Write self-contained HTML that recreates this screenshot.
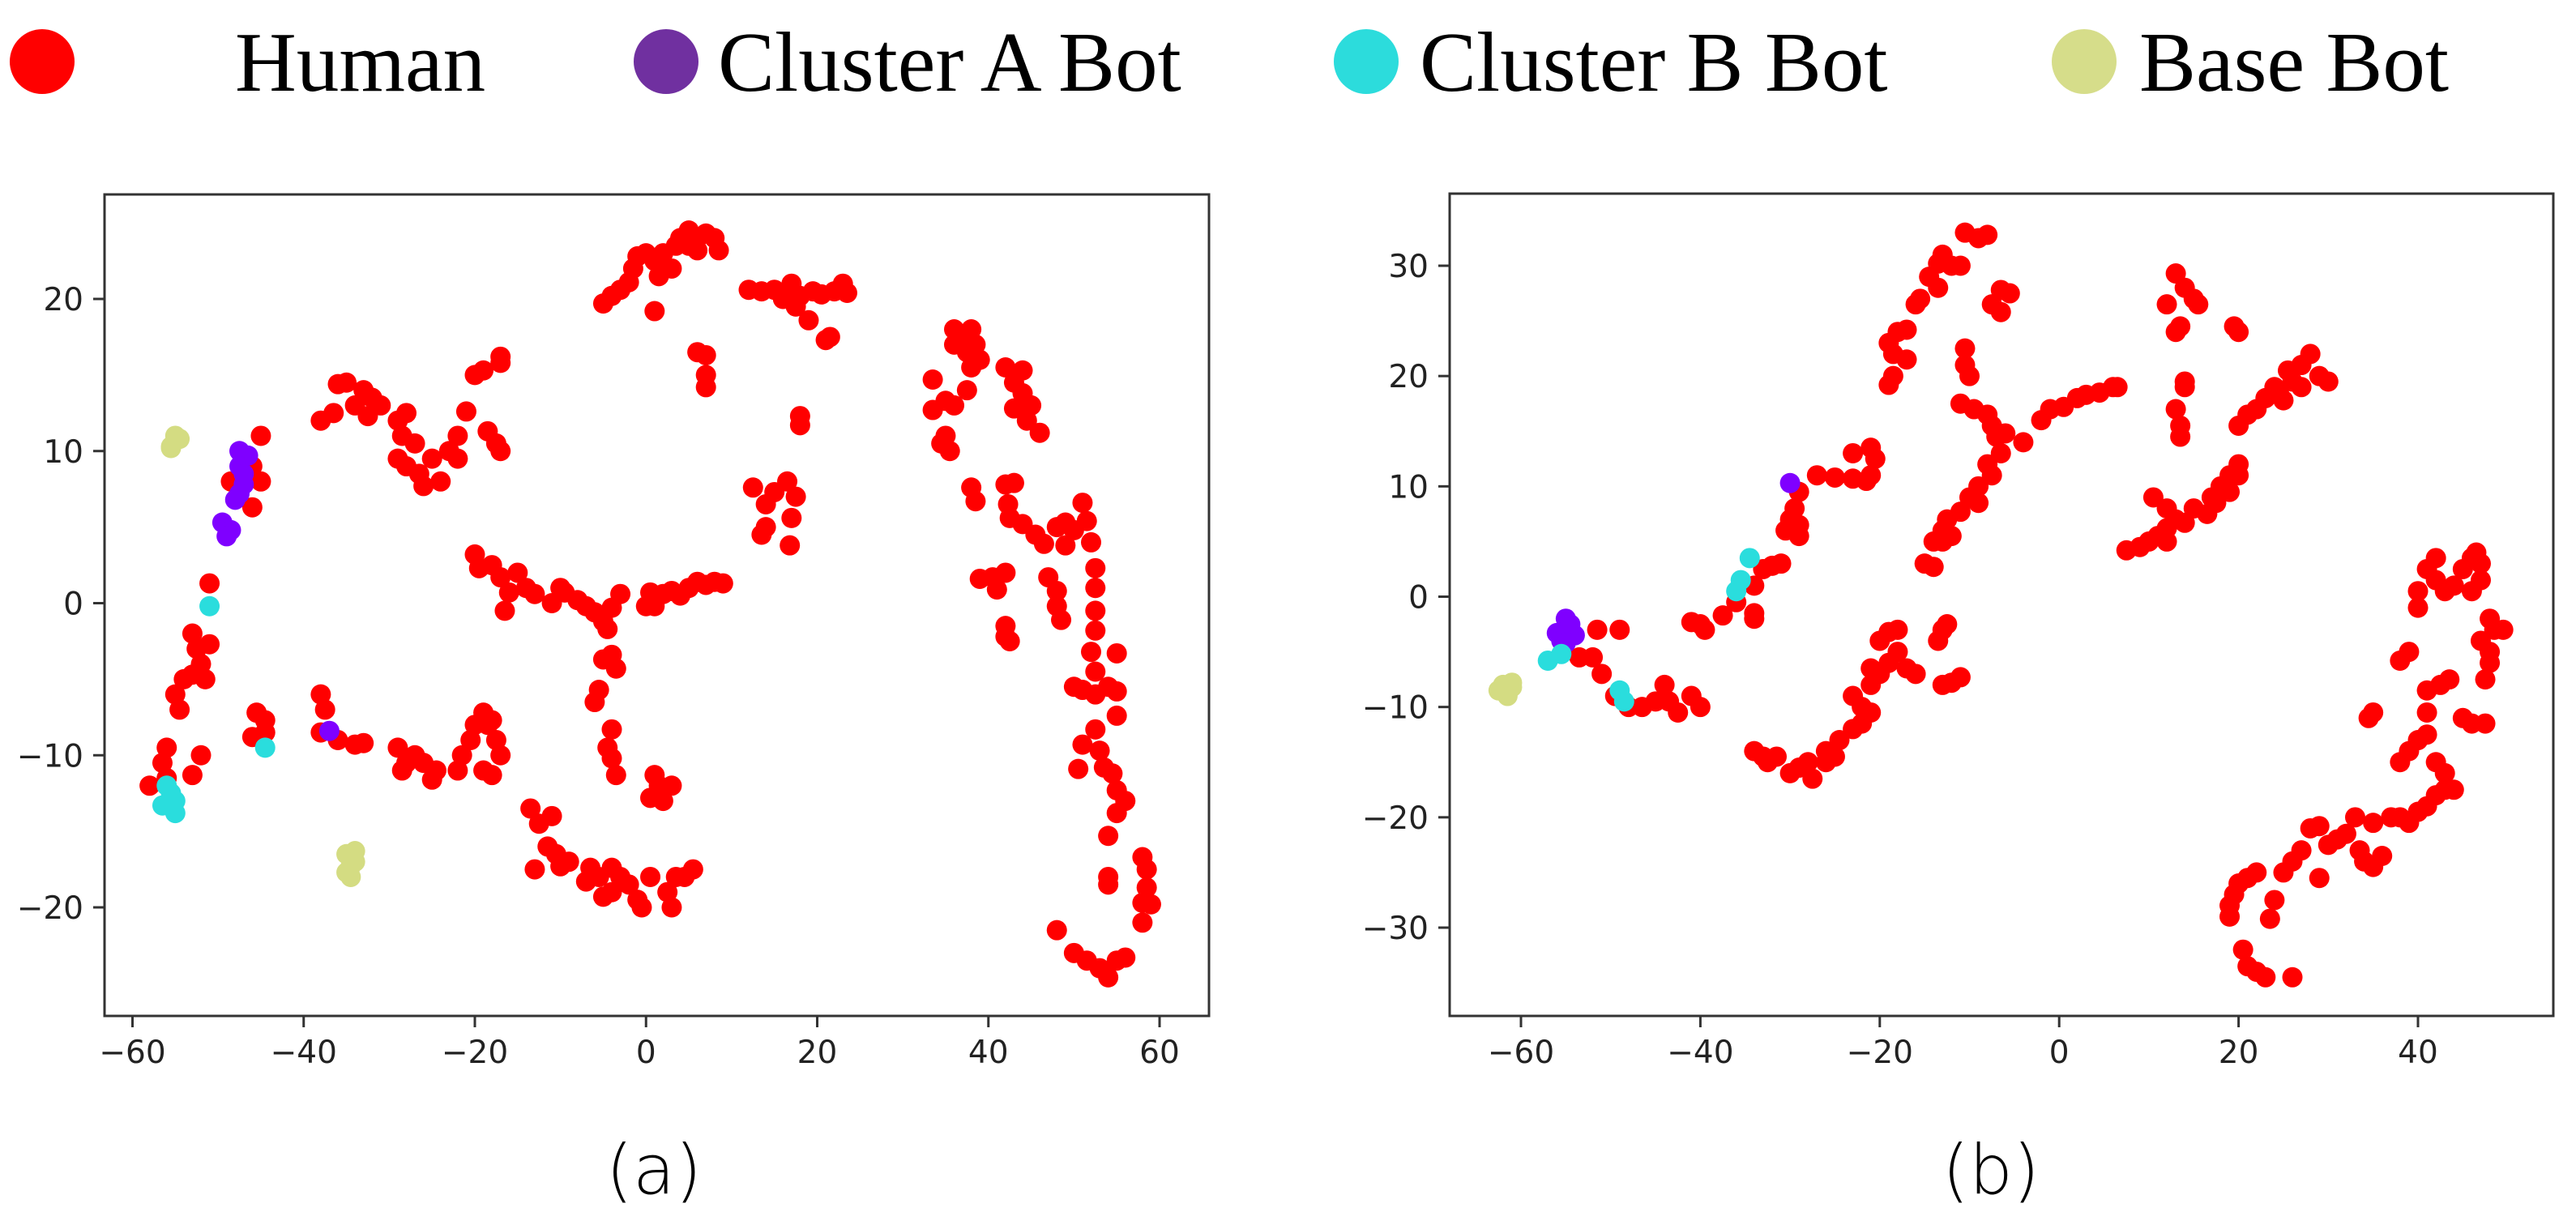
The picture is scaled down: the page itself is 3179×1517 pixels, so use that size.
<!DOCTYPE html>
<html><head><meta charset="utf-8"><style>
html,body{margin:0;padding:0;background:#fff;}
svg{display:block;}
</style></head><body>
<svg id="fig" width="3179" height="1517" viewBox="0 0 3179 1517" xmlns="http://www.w3.org/2000/svg">
<g font-family="Liberation Serif, serif" font-size="105" fill="#000">
 <g><circle cx="52" cy="76" r="40" fill="#ff0000"/><text x="290" y="112">Human</text></g>
 <g><circle cx="822" cy="76" r="40" fill="#7030a0"/><text x="886" y="112">Cluster A Bot</text></g>
 <g><circle cx="1686" cy="76" r="40" fill="#2cdcdc"/><text x="1752" y="112">Cluster B Bot</text></g>
 <g><circle cx="2572" cy="76" r="40" fill="#d6dd8a"/><text x="2640" y="112">Base Bot</text></g>
</g>
<g id="plotA"></g>
<g id="plotB"></g>
<text x="807" y="1445" font-family="DejaVu Sans, sans-serif" font-size="85" font-weight="200" text-anchor="middle" dominant-baseline="central" fill="#000">(a)</text>
<text x="2457" y="1445" font-family="DejaVu Sans, sans-serif" font-size="85" font-weight="200" text-anchor="middle" dominant-baseline="central" fill="#000">(b)</text>
</svg>
<script>
const aXTicks=[-60,-40,-20,0,20,40,60];
const aYTicks=[-20,-10,0,10,20];
const aHuman=[[-5,19.7],[-4,20.2],[-3,20.6],[-2,21.1],[-1.5,22],[-1,22.8],[0,23],[1,22.5],[1.5,21.5],[1,19.2],[2,23],[3,22],[3.5,23.5],[4,24],[5,24.5],[6,24],[7,24.3],[8,24],[6,23.2],[8.5,23.2],[5,23.5],
[6,16.5],[7,16.3],[7,15],[7,14.2],
[12,20.6],[13.5,20.5],[15,20.6],[16,20],[17,21],[17.5,19.5],[18,20.2],[19,18.6],[19.5,20.5],[20.5,20.3],[21,17.3],[21.5,17.5],[22,20.5],[23,21],[23.5,20.4],
[18,12.3],[18,11.7],
[12.5,7.6],[14,6.5],[15,7.3],[16.5,8],[17.5,7],[14,5],[13.5,4.5],[17,5.6],[16.8,3.8],
[36,18],[37,17.5],[38,18],[36,17],[37.5,16.5],[38.5,17],[38,15.5],[39,16],[33.5,14.7],[35,13.3],[36,13],[37.5,14],[33.5,12.7],[35,11],[34.5,10.5],[35.5,10],[42,15.5],[44,15.3],[43,14.5],[44,13.8],[45,13],[43,12.8],[44.5,12],[46,11.2],[38,7.6],[38.5,6.7],[42,7.8],[43,7.9],[42.3,6.5],[42.5,5.6],[44,5.2],[45.5,4.5],[46.5,3.9],[48,5],[49,5.3],[50,4.8],[51,6.6],[51.5,5.4],[52,4],[49,3.8],[52.5,2.3],[52.5,1],[52.5,-0.5],[52.5,-1.8],[52,-3.2],[52.5,-4.5],[55,-3.3],[50,-5.5],[51,-5.7],[52.5,-6],[54,-5.5],[55,-5.8],[55,-7.4],[52.5,-8.3],[51,-9.3],[53,-9.7],[50.5,-10.9],[53.5,-10.8],[54.5,-11.2],[55,-12.3],[56,-13],[55,-13.8],[54,-15.3],[58,-16.7],[58.5,-17.5],[54,-18],[54,-18.5],[58.5,-18.7],[58,-19.7],[59,-19.8],[58,-21],[48,-21.5],[50,-23],[51.5,-23.5],[53,-24],[54,-24.6],[55,-23.5],[56,-23.3],
[39,1.6],[40.5,1.7],[41,0.9],[42,2],[42,-1.5],[42,-2.2],[42.5,-2.5],[47,1.7],[48,0.8],[48,-0.2],[48.5,-1.1],
[-20,3.2],[-19.5,2.3],[-18,2.5],[-17,1.7],[-16,0.7],[-15,2],[-14,1],[-13,0.6],[-11,0],[-10,1],[-9.5,0.7],[-8,0.2],[-7,-0.2],[-6,-0.6],[-5,-1.2],[-4.5,-1.7],[-3,0.6],[-16.5,-0.5],[-4,-0.3],[0,-0.2],[0.5,0.7],[1,-0.2],[2,0.6],[3,0.8],[4,0.5],[5,1],[6,1.4],[7,1.2],[8,1.4],[9,1.3],
[-5,-3.7],[-4,-3.4],[-3.5,-4.3],[-5.5,-5.7],[-6,-6.5],[-4,-8.3],[-4.5,-9.5],[-4,-10.2],[-3.5,-11.3],[1,-11.3],[1.5,-12],[3,-12],[0.5,-12.8],[2,-13],
[-13.5,-13.5],[-12.5,-14.5],[-11,-14],[-11.5,-16],[-10.5,-16.5],[-9,-17],[-10,-17.3],[-13,-17.5],[-6.5,-17.4],[-5.5,-18],[-4,-17.4],[-3,-18],[-7,-18.3],[-5,-19.3],[-4,-19],[-2,-18.5],[-1,-19.5],[-0.5,-20],[0.5,-18],[2.5,-19],[3,-20],[3.5,-18],[4.5,-18],[5.5,-17.5],
[-38,12],[-36.5,12.5],[-36,14.4],[-35,14.5],[-34,13],[-33,14],[-32,13.5],[-32.5,12.3],[-31,13],[-29,12],[-28,12.5],[-28.5,11],[-27,10.5],[-29,9.5],[-28,9],[-26.5,8.5],[-25,9.5],[-24,8],[-26,7.7],[-23,10],[-22,9.5],[-22,11],[-21,12.6],[-20,15],[-19,15.3],[-17,15.8],[-17,16.2],[-18.5,11.3],[-17.5,10.5],[-17,10],
[-38,-6],[-37.5,-7],[-38,-8.5],[-36,-9],[-34,-9.3],[-33,-9.2],[-29,-9.5],[-28,-10.5],[-28.5,-11],[-27,-10],[-26,-10.5],[-25,-11.6],[-24.5,-11],[-22,-11],[-21.5,-10],[-20.5,-9],[-20,-8],[-19,-7.2],[-18.5,-8],[-18,-7.7],[-17.5,-9],[-17,-10],[-19,-11],[-18,-11.3],
[-45,11],[-46,9],[-45,8],[-48.5,8],[-46,6.3],[-51,1.3],[-53,-2],[-52.5,-3],[-51,-2.7],[-52,-4],[-53,-4.7],[-51.5,-5],[-54,-5],[-55,-6],[-54.5,-7],[-56,-9.5],[-56.5,-10.5],[-52,-10],[-53,-11.3],[-58,-12],[-56,-11.5],[-45.5,-7.2],[-44.5,-7.7],[-46,-8.8],[-44.5,-8.5]];
const aClusterA=[[-47.5,10],[-46.5,9.7],[-47.5,9],[-47,8.5],[-47,7.8],[-47.5,7.2],[-48,6.8],[-49.5,5.3],[-48.5,4.8],[-49,4.4],[-37,-8.4]];
const aClusterB=[[-51,-0.2],[-44.5,-9.5],[-56,-12],[-55.5,-12.5],[-56.5,-13.3],[-55,-13],[-55,-13.8]];
const aBase=[[-55.5,10.3],[-55,11],[-54.5,10.8],[-55.5,10.2],[-35,-16.5],[-34,-16.3],[-34,-17],[-35,-17.7],[-34.5,-18],[-34.5,-17.3]];

const bXTicks=[-60,-40,-20,0,20,40];
const bYTicks=[-30,-20,-10,0,10,20,30];
const bHuman=[[-10.5,33],[-9,32.5],[-8,32.8],[-13,31],[-13.5,30.2],[-12,30],[-11,30],[-14.5,29],[-13.5,28],[-15.5,27],[-16,26.5],[-7.5,26.5],[-6.5,27.8],[-5.5,27.5],[-6.5,25.8],[-19,23],[-18,24],[-17,24.2],[-18.5,22],[-17,21.5],[-19,19.2],[-18.5,20],[-10.5,22.5],[-10.5,21],[-10,20],[-11,17.5],[-9.5,17],[-8,16.5],[-7.5,15.5],[-7,14.5],[-6,14.8],[-4,14],[-6.5,13],[-7.5,11],[-8,12],[-9,10],[-10,9],[-9,8.5],[-12.5,7],[-11,7.7],[-13,6],[-14,5],[-13,5],[-15,3],[-14,2.7],[-12,5.5],
[-2,16],[-1,17],[0.5,17.2],[2,18],[3,18.3],[4.5,18.5],[6,19],[6.5,19],
[-29,9.5],[-29.5,8],[-30,7],[-29,6.5],[-30.5,6],[-29,5.5],[-27,11],[-25,10.8],[-23,10.7],[-21.5,10.5],[-23,13],[-21,13.5],[-20.5,12.5],[-21,11],[-33,2.5],[-32,2.8],[-31,3],[-34,1],[-34,-1.5],[-34,-2],[-36,-0.5],[-37.5,-1.7],[-39.5,-3],[-41,-2.3],[-40,-2.5],
[-51.5,-3],[-49,-3],[-52,-5.5],[-51,-7],[-49.5,-9],[-48,-10],[-46.5,-10],[-45,-9.5],[-44,-8],[-43.5,-9.5],[-42.5,-10.5],[-41,-9],[-40,-10],[-53.5,-5.5],
[-34,-14],[-33,-14.5],[-32.5,-15],[-31.5,-14.5],[-30,-16],[-29,-15.5],[-27.5,-16.5],[-28,-15],[-26,-15],[-26,-14],[-25,-14.5],[-24.5,-13],[-23,-12],[-22,-10],[-23,-9],[-21,-10.5],[-21,-8],[-22,-11.5],[-21,-6.5],[-20,-7],[-19,-6],[-18,-5],[-17,-6.5],[-16,-7],[-20,-4],[-19,-3.2],[-18,-3],[-13,-8],[-12,-7.8],[-11,-7.3],[-13.5,-4],[-13,-3],[-12.5,-2.5],
[7.5,4.2],[9,4.5],[10,5],[11,5.5],[12,6.2],[12,5],[13,7],[14,6.7],[15,8],[16.5,7.5],[17,9],[18,10],[19,11],[20,12],[20,11],[19,9.5],[17.5,8.5],[10.5,9],[12,8],
[14,19.5],[14,19],[13,17],[13.5,15.5],[13.5,14.5],[12,26.5],[13,29.3],[14,28],[15,27],[15.5,26.5],[13.5,24.5],[13,24],[19.5,24.5],[20,24],
[20,15.5],[21,16.5],[22,17],[23,18],[24,19],[24.5,18.5],[25.5,20.5],[26,19.5],[27,21],[28,22],[29,20],[30,19.5],[27,19],[25,17.8],
[19,-28],[19.5,-27],[20,-26],[21,-25.5],[22,-25],[19,-29],[20.5,-32],[21,-33.5],[22,-34],[23,-34.5],[26,-34.5],[23.5,-29.2],[24,-27.5],[25,-25],[26,-24],[27,-23],[28,-21],[29,-20.8],[29,-25.5],[30,-22.5],[31,-22],[32,-21.5],[33,-20],[33.5,-23],[34,-24],[35,-24.5],[36,-23.5],[35,-20.5],[37,-20],[38,-20],[39,-20.5],[40,-19.5],[41,-19],[42,-18],[43,-17.5],[44,-17.5],[43,-16],[42,-15],[40,-13],[41,-12.5],[38,-15],[39,-14],[41,-10.5],[41,-8.5],[42.5,-8],[43.5,-7.5],[35,-10.5],[34.5,-11],[38,-5.8],[39,-5],[40,-1],[40,0.5],[41,2.5],[42,3.5],[42,1.5],[43,0.5],[44,1],[45,2.5],[46,3.5],[46.5,4],[47,3],[47,1.5],[46,0.5],[48,-2],[48.5,-3],[49.5,-3],[47,-4],[48,-5],[48,-6],[47.5,-7.5],[45,-11],[46,-11.5],[47.5,-11.5]];
const bClusterA=[[-55,-2],[-56,-3.3],[-55,-3],[-54,-3.5],[-55.5,-4],[-54.5,-2.5],[-55,-4.2],[-30,10.3]];
const bClusterB=[[-34.5,3.5],[-35.5,1.5],[-36,0.5],[-57,-5.8],[-55.5,-5.2],[-49,-8.5],[-48.5,-9.5]];
const bBase=[[-62,-8],[-61,-8.2],[-62.5,-8.5],[-61.5,-9],[-61,-7.8]];

const NS='http://www.w3.org/2000/svg';
function mk(tag,attrs,parent){const e=document.createElementNS(NS,tag);for(const k in attrs)e.setAttribute(k,attrs[k]);parent.appendChild(e);return e;}

function drawPlot(g,box,xs,ys,xTicks,yTicks,series,prefix){
  const sx=v=>xs.p0+(v-xs.v0)*(xs.p1-xs.p0)/(xs.v1-xs.v0);
  const sy=v=>ys.p0+(v-ys.v0)*(ys.p1-ys.p0)/(ys.v1-ys.v0);
  series.forEach(s=>{
    const sg=mk('g',{},g);
    
    
    s.data.forEach(d=>{
      const c=mk('circle',{cx:sx(d[0]),cy:sy(d[1]),r:12.5,fill:s.color},sg);
      
      
    });
  });
  const fr=mk('rect',{x:box.x0,y:box.y0,width:box.x1-box.x0,height:box.y1-box.y0,fill:'none',stroke:'#333','stroke-width':3},g);
  
  
  xTicks.forEach(t=>{
    const x=sx(t);
    const tk=mk('line',{x1:x,x2:x,y1:box.y1,y2:box.y1+14,stroke:'#333','stroke-width':3},g);
    
    
    const tx=mk('text',{x:x,y:box.y1+58,'text-anchor':'middle','font-family':'DejaVu Sans, sans-serif','font-size':39,fill:'#222'},g);
    tx.textContent=(t<0?'\u2212'+(-t):String(t));
    
    
  });
  yTicks.forEach(t=>{
    const y=sy(t);
    const tk=mk('line',{x1:box.x0-14,x2:box.x0,y1:y,y2:y,stroke:'#333','stroke-width':3},g);
    
    
    const tx=mk('text',{x:box.x0-26,y:y+14,'text-anchor':'end','font-family':'DejaVu Sans, sans-serif','font-size':39,fill:'#222'},g);
    tx.textContent=(t<0?'\u2212'+(-t):String(t));
    
    
  });
}
drawPlot(document.getElementById('plotA'),{x0:129,y0:240,x1:1492,y1:1254},
  {v0:-60,v1:60,p0:163.5,p1:1431},{v0:20,v1:-20,p0:369,p1:1120},aXTicks,aYTicks,
  [{name:'human',data:aHuman,color:'#ff0000'},{name:'cluster-a',data:aClusterA,color:'#7f00ff'},{name:'cluster-b',data:aClusterB,color:'#2adddd'},{name:'base',data:aBase,color:'#d4dc82'}],'plot-a');
drawPlot(document.getElementById('plotB'),{x0:1789,y0:239,x1:3151,y1:1254},
  {v0:-60,v1:40,p0:1877,p1:2984},{v0:30,v1:-30,p0:328,p1:1145},bXTicks,bYTicks,
  [{name:'human',data:bHuman,color:'#ff0000'},{name:'cluster-a',data:bClusterA,color:'#7f00ff'},{name:'cluster-b',data:bClusterB,color:'#2adddd'},{name:'base',data:bBase,color:'#d4dc82'}],'plot-b');
</script>
</body></html>
